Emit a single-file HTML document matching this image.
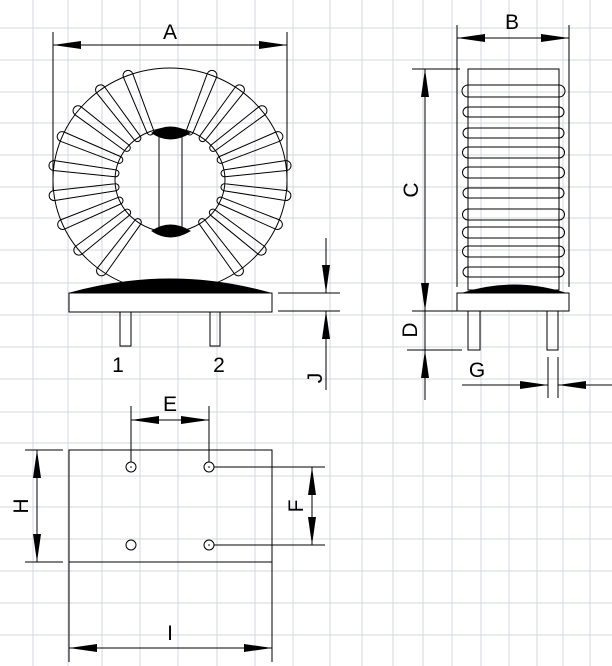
<!DOCTYPE html>
<html><head><meta charset="utf-8"><style>
html,body{margin:0;padding:0;background:#fff}
svg{display:block}
text{font-family:"Liberation Sans",Arial,sans-serif;font-size:21px;fill:#000}
</style></head><body>
<svg id="s" width="612" height="666" viewBox="0 0 612 666" xmlns="http://www.w3.org/2000/svg">
<defs>
<marker id="ar" viewBox="0 0 28 8" refX="28" refY="4" markerWidth="28" markerHeight="8" markerUnits="userSpaceOnUse" orient="auto-start-reverse"><path d="M0,0 L28,4 L0,8 Z" fill="#000"/></marker>
</defs>
<g id="grid" stroke="#d3d7e2" stroke-width="1"></g>
<g fill="none" stroke="#000" stroke-width="1">
<!-- Toroid -->
<ellipse cx="170" cy="180" rx="117" ry="112"/>
<ellipse cx="170" cy="180" rx="55" ry="52"/>
<g id="wind"></g>
<line x1="159" y1="132" x2="159" y2="230"/>
<line x1="182" y1="132" x2="182" y2="230"/>
<path d="M152,133 Q170,121 190,133 Q170,145 152,133Z" fill="#000"/>
<path d="M152,231 Q170,219 190,231 Q170,243 152,231Z" fill="#000"/>
<rect x="69" y="293" width="203" height="19" fill="#fff"/>
<path d="M70,293 Q170,265 270,293Z" fill="#000"/>
<rect x="120" y="312" width="11" height="34"/>
<rect x="210" y="312" width="10" height="34"/>
<!-- A -->
<line x1="53" y1="32" x2="53" y2="190"/>
<line x1="287" y1="32" x2="287" y2="190"/>
<line x1="53" y1="45" x2="287" y2="45" marker-start="url(#ar)" marker-end="url(#ar)"/>
<!-- J -->
<line x1="278" y1="293" x2="340" y2="293"/>
<line x1="278" y1="311" x2="340" y2="311"/>
<line x1="326" y1="238" x2="326" y2="293" marker-end="url(#ar)"/>
<line x1="326" y1="390" x2="326" y2="311" marker-end="url(#ar)"/>
<!-- side view -->
<line x1="457" y1="25" x2="457" y2="287"/>
<line x1="569" y1="25" x2="569" y2="287"/>
<line x1="457" y1="38" x2="569" y2="38" marker-start="url(#ar)" marker-end="url(#ar)"/>
<rect x="468" y="69" width="91" height="221"/>
<g id="sw"></g>
<rect x="457" y="293" width="112" height="18" fill="#fff"/>
<path d="M463,293 Q514,277 565,293Z" fill="#000"/>
<rect x="468" y="311" width="12" height="39"/>
<rect x="547" y="311" width="11" height="39"/>
<line x1="412" y1="69" x2="460" y2="69"/>
<line x1="412" y1="311" x2="457" y2="311"/>
<line x1="425" y1="69" x2="425" y2="311" marker-start="url(#ar)" marker-end="url(#ar)"/>
<line x1="407" y1="350" x2="462" y2="350"/>
<line x1="425" y1="311" x2="425" y2="400"/>
<line x1="425" y1="400" x2="425" y2="350" marker-end="url(#ar)"/>
<line x1="548" y1="357" x2="548" y2="398"/>
<line x1="558" y1="357" x2="558" y2="398"/>
<line x1="462" y1="385" x2="548" y2="385" marker-end="url(#ar)"/>
<line x1="612" y1="385" x2="558" y2="385" marker-end="url(#ar)"/>
<!-- bottom view -->
<rect x="69" y="450" width="203" height="112"/>
<line x1="69" y1="562" x2="69" y2="662"/>
<line x1="272" y1="562" x2="272" y2="662"/>
<circle cx="131" cy="467" r="5"/><circle cx="209" cy="467" r="5"/>
<circle cx="131" cy="545" r="5"/><circle cx="209" cy="545" r="5"/>
<line x1="131" y1="406" x2="131" y2="462"/>
<line x1="209" y1="406" x2="209" y2="462"/>
<line x1="131" y1="420" x2="209" y2="420" marker-start="url(#ar)" marker-end="url(#ar)"/>
<line x1="25" y1="450" x2="63" y2="450"/>
<line x1="25" y1="562" x2="63" y2="562"/>
<line x1="37" y1="450" x2="37" y2="562" marker-start="url(#ar)" marker-end="url(#ar)"/>
<line x1="214" y1="467" x2="325" y2="467"/>
<line x1="214" y1="545" x2="325" y2="545"/>
<line x1="312" y1="467" x2="312" y2="545" marker-start="url(#ar)" marker-end="url(#ar)"/>
<line x1="69" y1="648" x2="272" y2="648" marker-start="url(#ar)" marker-end="url(#ar)"/>
</g>
<g fill="#000"><circle cx="131" cy="467" r="0.8"/><circle cx="209" cy="467" r="0.8"/><circle cx="209" cy="545" r="0.8"/></g>
<text x="170" y="39" text-anchor="middle">A</text>
<text x="512" y="29" text-anchor="middle">B</text>
<text x="118" y="372" text-anchor="middle">1</text>
<text x="219" y="372" text-anchor="middle">2</text>
<text x="477" y="377" text-anchor="middle">G</text>
<text x="170" y="411" text-anchor="middle">E</text>
<text x="170" y="640" text-anchor="middle">I</text>
<text transform="translate(418,190) rotate(-90)" text-anchor="middle">C</text>
<text transform="translate(417,330) rotate(-90)" text-anchor="middle">D</text>
<text transform="translate(322,378) rotate(-90)" text-anchor="middle">J</text>
<text transform="translate(28,506) rotate(-90)" text-anchor="middle">H</text>
<text transform="translate(303,506) rotate(-90)" text-anchor="middle">F</text>
</svg>
<script>
var NS="http://www.w3.org/2000/svg";
var g=document.getElementById("grid");
var xs=[33,68,102,140,178,217,255,293,330,362,393,423,452,481,509,537,563,590];
var ys=[28,60,92,123,155,187,218,250,283,315,347,379,412,443,476,507,539,571,603,635];
xs.forEach(function(x){var l=document.createElementNS(NS,"line");l.setAttribute("x1",x);l.setAttribute("x2",x);l.setAttribute("y1",0);l.setAttribute("y2",666);g.appendChild(l);});
ys.forEach(function(y){var l=document.createElementNS(NS,"line");l.setAttribute("y1",y);l.setAttribute("y2",y);l.setAttribute("x1",0);l.setAttribute("x2",612);g.appendChild(l);});
var w=document.getElementById("wind");
function wind(deg){
 var t=deg*Math.PI/180,c=Math.cos(t),s=-Math.sin(t);
 var ox=170+117*c,oy=180+112*s,ix=170+55*c,iy=180+52*s;
 var dx=c,dy=s,nx=dy,ny=-dx,wo=5,wi=3.5;
 var d="M"+(ox+nx*wo)+","+(oy+ny*wo)+" A"+wo+" "+wo+" 0 0 1 "+(ox-nx*wo)+","+(oy-ny*wo)+
 " L"+(ix-nx*wi)+","+(iy-ny*wi)+" A"+wi+" "+wi+" 0 0 1 "+(ix+nx*wi)+","+(iy+ny*wi)+" Z";
 var p=document.createElementNS(NS,"path");p.setAttribute("d",d);w.appendChild(p);
}
for(var k=0;k<9;k++){wind(111+15.4*k);wind(69-15.4*k);}
var sw=document.getElementById("sw");
[[85,97],[107,117],[128,138],[147,158],[167,178],[188,198],[209,220],[227,238],[246,257],[267,277]].forEach(function(p){
 var r=(p[1]-p[0])/2;
 var d="M468,"+p[0]+" L559,"+p[0]+" A"+r+" "+r+" 0 0 1 559,"+p[1]+" L468,"+p[1]+" A"+r+" "+r+" 0 0 1 468,"+p[0]+"Z";
 var e=document.createElementNS(NS,"path");e.setAttribute("d",d);sw.appendChild(e);
});
</script>
</body></html>
